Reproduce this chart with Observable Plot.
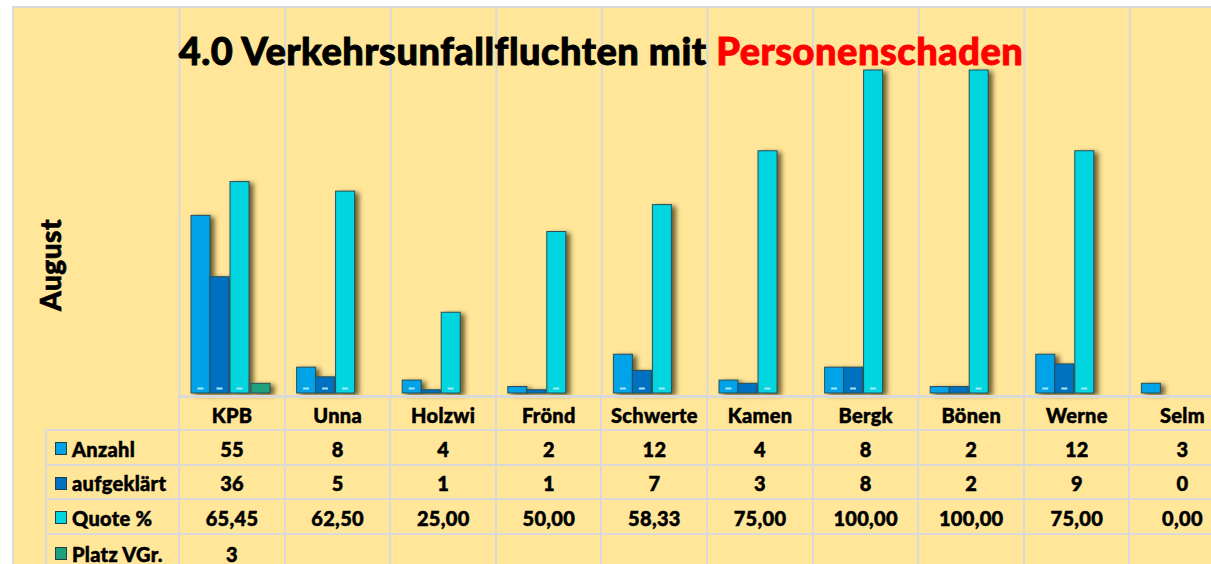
<!DOCTYPE html>
<html>
<head>
<meta charset="utf-8">
<script src="https://cdn.jsdelivr.net/npm/d3@7"></script>
<script src="https://cdn.jsdelivr.net/npm/@observablehq/plot@0.6"></script>
<style>
  html, body { margin: 0; padding: 0; background: #ffffff; overflow: hidden; width: 1211px; height: 564px; }
  body { position: relative; font-family: Lato, "DejaVu Sans", sans-serif; }
  #page { position: absolute; left: 12px; top: 6px; width: 1300px; height: 600px; background: #FFE699;
          border-left: 2px solid #D9D9D9; border-top: 2px solid #D9D9D9; box-sizing: border-box; }
  #chart { position: absolute; left: 0; top: 0; width: 1234px; }
  #chart svg { background: transparent; overflow: visible; max-width: none !important; }
  .txt { font-weight: 900; color: #000; white-space: nowrap; }
  #title { position: absolute; left: 0; top: 30px; width: 1202px; text-align: center; font-size: 38px; line-height: 40px;
           letter-spacing: 0.5px; -webkit-text-stroke: 0.9px currentColor; }
  #title .red { color: #FF0000; }
  #month { position: absolute; left: 50px; top: 265px; transform: translate(-50%, -50%) rotate(-90deg);
           font-size: 28px; line-height: 30px; letter-spacing: 0.5px; -webkit-text-stroke: 0.7px #000; }
  .cell { position: absolute; box-sizing: border-box; display: flex; align-items: center; justify-content: center;
          font-size: 20px; font-weight: 900; border-left: 2px solid #D9D9D9; border-top: 2px solid #D9D9D9;
          -webkit-text-stroke: 0.5px #000; letter-spacing: 0.3px; }
  .lab { justify-content: flex-start; padding-left: 8px; }
  .sw { display: inline-block; width: 12px; height: 13px; border: 1px solid #1f3f48; margin-right: 5px; box-sizing: border-box; }
</style>
</head>
<body>
<div id="page"></div>
<div id="chart"></div>
<div id="table"></div>
<div id="title" class="txt">4.0 Verkehrsunfallfluchten mit <span class="red">Personenschaden</span></div>
<div id="month" class="txt">August</div>
<script>
// ---- data ----
const categories = ["KPB", "Unna", "Holzwi", "Frönd", "Schwerte", "Kamen", "Bergk", "Bönen", "Werne", "Selm"];
const anzahl      = [55, 8, 4, 2, 12, 4, 8, 2, 12, 3];
const aufgeklaert = [36, 5, 1, 1, 7, 3, 8, 2, 9, 0];
const quote       = [65.45, 62.50, 25.00, 50.00, 58.33, 75.00, 100.00, 100.00, 75.00, 0.00];
const platz       = [3, null, null, null, null, null, null, null, null, null];
const seriesNames = ["Anzahl", "aufgeklärt", "Quote %", "Platz VGr."];
const seriesValues = [anzahl, aufgeklaert, quote, platz];
const seriesColors = ["#00A2E8", "#0070C0", "#00D5E0", "#1FA07C"];
const valueFormat = [v => String(v), v => String(v), v => v.toFixed(2).replace(".", ","), v => String(v)];

// long table built from the arrays
const rows = [];
seriesNames.forEach((s, si) => categories.forEach((c, ci) => {
  rows.push({cat: c, series: s, value: seriesValues[si][ci]});
}));

// ---- layout / style ----
const W = 1234, ML = 178;
const step = (W - ML) / categories.length;
const slotLeft = [13, 32, 52, 73];
const barW = 19;

const marks = [
  Plot.ruleX(categories, {x: d => d, dx: -step / 2 + 1, stroke: "#D9D9D9", strokeWidth: 2})
];
seriesNames.forEach((s, si) => {
  const data = rows.filter(d => d.series === s && d.value != null);
  marks.push(Plot.barY(data, {
    x: "cat", y: "value", fill: seriesColors[si], stroke: "#24505c", strokeWidth: 1,
    insetLeft: slotLeft[si], insetRight: step - slotLeft[si] - barW
  }));
});
seriesNames.forEach((s, si) => {
  const data = rows.filter(d => d.series === s && d.value != null && d.value >= 4);
  marks.push(Plot.tickY(data, {
    x: "cat", y: 0, dy: -5, stroke: "#A9E9F7", strokeWidth: 2,
    insetLeft: slotLeft[si] + 6.5, insetRight: step - slotLeft[si] - barW + 6.5
  }));
});

const chart = Plot.plot({
  width: W, height: 396,
  marginLeft: ML, marginRight: 0, marginTop: 8, marginBottom: 0,
  style: {background: "transparent", overflow: "visible", maxWidth: "none"},
  x: {domain: categories, padding: 0, round: false, axis: null},
  y: {domain: [0, 100], range: [393, 70], axis: null},
  marks
});
chart.style.maxWidth = "none";
document.getElementById("chart").appendChild(chart);
chart.querySelectorAll('g[aria-label="bar"]').forEach(g => {
  g.style.filter = "drop-shadow(4px 2px 2.5px rgba(60,45,10,0.75))";
});

// ---- table below, aligned with the Plot x scale ----
const xs = chart.scale("x");
const bw = xs.bandwidth;
const table = document.getElementById("table");
const rowTops = [395, 429, 464, 498, 533, 570];
function cell(left, top, width, height, html, cls, borderTop) {
  const d = document.createElement("div");
  d.className = "cell " + (cls || "");
  d.style.left = left + "px"; d.style.top = top + "px";
  d.style.width = width + "px"; d.style.height = height + "px";
  if (borderTop) d.style.borderTopWidth = borderTop + "px";
  d.innerHTML = html;
  table.appendChild(d);
}
categories.forEach((c, ci) => {
  const left = xs.apply(c);
  cell(left, rowTops[0], bw + 0.5, rowTops[1] - rowTops[0] + 2, c, "", 3);
  seriesNames.forEach((s, si) => {
    const v = seriesValues[si][ci];
    cell(left, rowTops[si + 1], bw + 0.5, rowTops[si + 2] - rowTops[si + 1] + 2, v == null ? "" : valueFormat[si](v));
  });
});
seriesNames.forEach((s, si) => {
  cell(45, rowTops[si + 1], ML - 45, rowTops[si + 2] - rowTops[si + 1] + 2,
       `<span class="sw" style="background:${seriesColors[si]}"></span>${s}`, "lab");
});
</script>
</body>
</html>
